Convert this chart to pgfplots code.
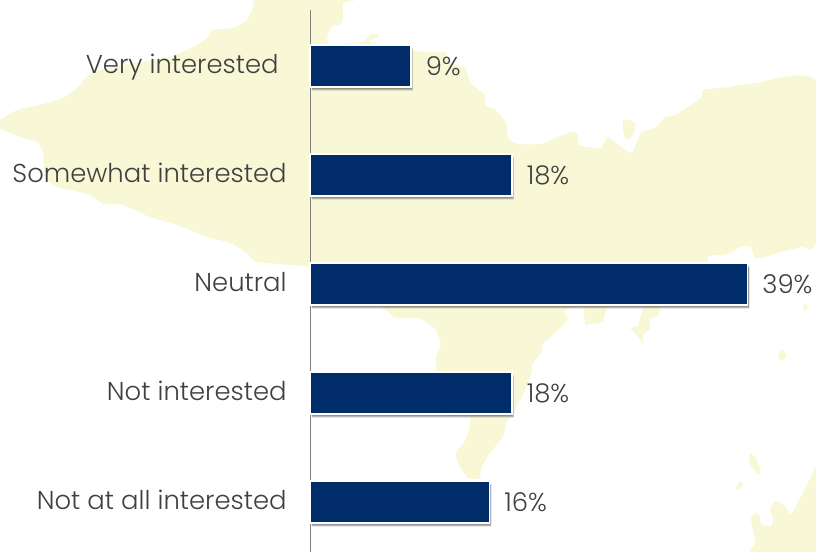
\documentclass[border=0pt]{standalone}
\usepackage{pgfplots}
\usepackage{fontspec}
\pgfplotsset{compat=1.18}
\usetikzlibrary{shadows}
\setmainfont{Poppins Light}
\definecolor{navy}{HTML}{002C6A}
\definecolor{pale}{HTML}{F9F8D6}
\definecolor{txt}{HTML}{404040}
\begin{document}
\begin{tikzpicture}
\useasboundingbox (0,0) rectangle (612pt,414pt);
\begin{axis}[at={(0,0)},anchor=south west,scale only axis,width=612pt,height=414pt,
  xmin=0,xmax=816,ymin=0,ymax=552,y dir=reverse,hide axis,clip=true]
\addplot[fill=pale,draw=none,smooth,tension=0.35] coordinates {
(0,120)(17,110)(43,104)(63,98)(77,88)(93,72)(133,63)(167,58)(193,47)(207,38)(213,30)(233,28)(247,20)(253,7)(258,0)
(353,0)(345,2)(343,4)(343,17)(341,24)(331,27)(328,43)(362,42)(370,35)(378,34)(378,37)(370,42)
(411,50)(425,52)(445,52)(450,63)(465,68)(471,83)(485,95)(485,105)(496,110)(506,123)(508,138)(518,144)(541,144)(551,140)(571,132)(578,135)(579,145)(601,148)(608,137)(631,153)(641,133)(656,127)(665,117)(675,115)(701,98)(703,90)(728,87)(755,83)(816,82)
(816,240)(801,247)(781,252)(765,257)(755,258)(751,247)(741,247)(725,255)(708,257)(700,285)(570,308)
(568,319)(555,333)(543,344)(541,353)(533,363)(531,374)(525,390)(515,410)(506,423)(503,436)(488,456)(481,469)(480,478)(468,478)(458,463)(456,453)(466,439)(470,416)
(445,416)(436,400)(436,370)(436,356)(441,344)(435,329)(421,319)(408,318)(395,318)(383,308)(340,285)(308,267)
(257,262)(247,253)(230,243)(207,237)(183,227)(150,217)(123,205)(103,204)(90,195)(58,187)(45,177)(43,153)(37,142)(20,137)(0,128)(0,120)};
\addplot[fill=pale,draw=none] coordinates {(583,300)(585,325)(603,322)(605,314)(610,300)(583,300)};
\addplot[fill=pale,draw=none] coordinates {(645,300)(638,326)(630,328)(643,343)(643,334)(650,329)(650,319)(658,316)(662,300)(645,300)};
\addplot[fill=pale,draw=none,smooth,tension=0.35] coordinates {(623,120)(633,121)(636,126)(631,138)(625,138)(623,130)(623,120)};
\addplot[fill=pale,draw=none,smooth] coordinates {(805,302)(808,307)(805,311)(803,307)(805,302)};
\addplot[fill=pale,draw=none,smooth] coordinates {(782,349)(786,355)(782,361)(778,355)(782,349)};
\addplot[fill=pale,draw=none,smooth,tension=0.4] coordinates {(750,453)(756,458)(761,472)(758,474)(751,466)(749,458)(750,453)};
\addplot[fill=pale,draw=none,smooth] coordinates {(735,490)(740,481)(743,484)(741,488)(735,490)};
\addplot[fill=pale,draw=none,smooth,tension=0.3] coordinates {(816,466)(805,489)(791,514)(785,506)(775,501)(770,509)(773,519)(771,526)(761,524)(760,516)(755,513)(751,519)(755,543)(751,552)(816,552)(816,466)};
\end{axis}
\begin{axis}[at={(232.5pt,0)},anchor=south west,scale only axis,width=379.5pt,height=406.5pt,
  xmin=0,xmax=45.1,ymin=-0.514,ymax=4.459,y dir=reverse,
  axis x line=none,axis y line*=left,
  axis line style={-,draw=gray,line width=0.7pt},
  ytick=data,
  yticklabels={Very interested\kern6pt,Somewhat interested,Neutral,Not interested,Not at all interested},
  major tick length=0pt,
  tick label style={font=\fontsize{19.4}{23}\selectfont,text=txt},
  yticklabel style={xshift=-14pt,yshift=-2.6pt,text height=0.75em,text depth=0.2em},
  clip=false,
  /pgf/number format/assume math mode=true,
  xbar,bar width=31.5pt,
  nodes near coords={\pgfmathprintnumber[assume math mode=true]{\pgfplotspointmeta}\%},
  point meta=x,
  nodes near coords style={font=\fontsize{19.4}{23}\selectfont,text=txt,anchor=west,xshift=7.3pt,yshift=-0.1pt}]
\addplot[fill=navy,draw=white,line width=1pt,
  drop shadow={shadow xshift=1.6pt,shadow yshift=-3pt,opacity=0.16,fill=black},
  drop shadow={shadow xshift=1.2pt,shadow yshift=-2.2pt,opacity=0.3,fill=black}] coordinates {(9,0)(18,1)(39,2)(18,3)(16,4)};
\end{axis}
\end{tikzpicture}
\end{document}
